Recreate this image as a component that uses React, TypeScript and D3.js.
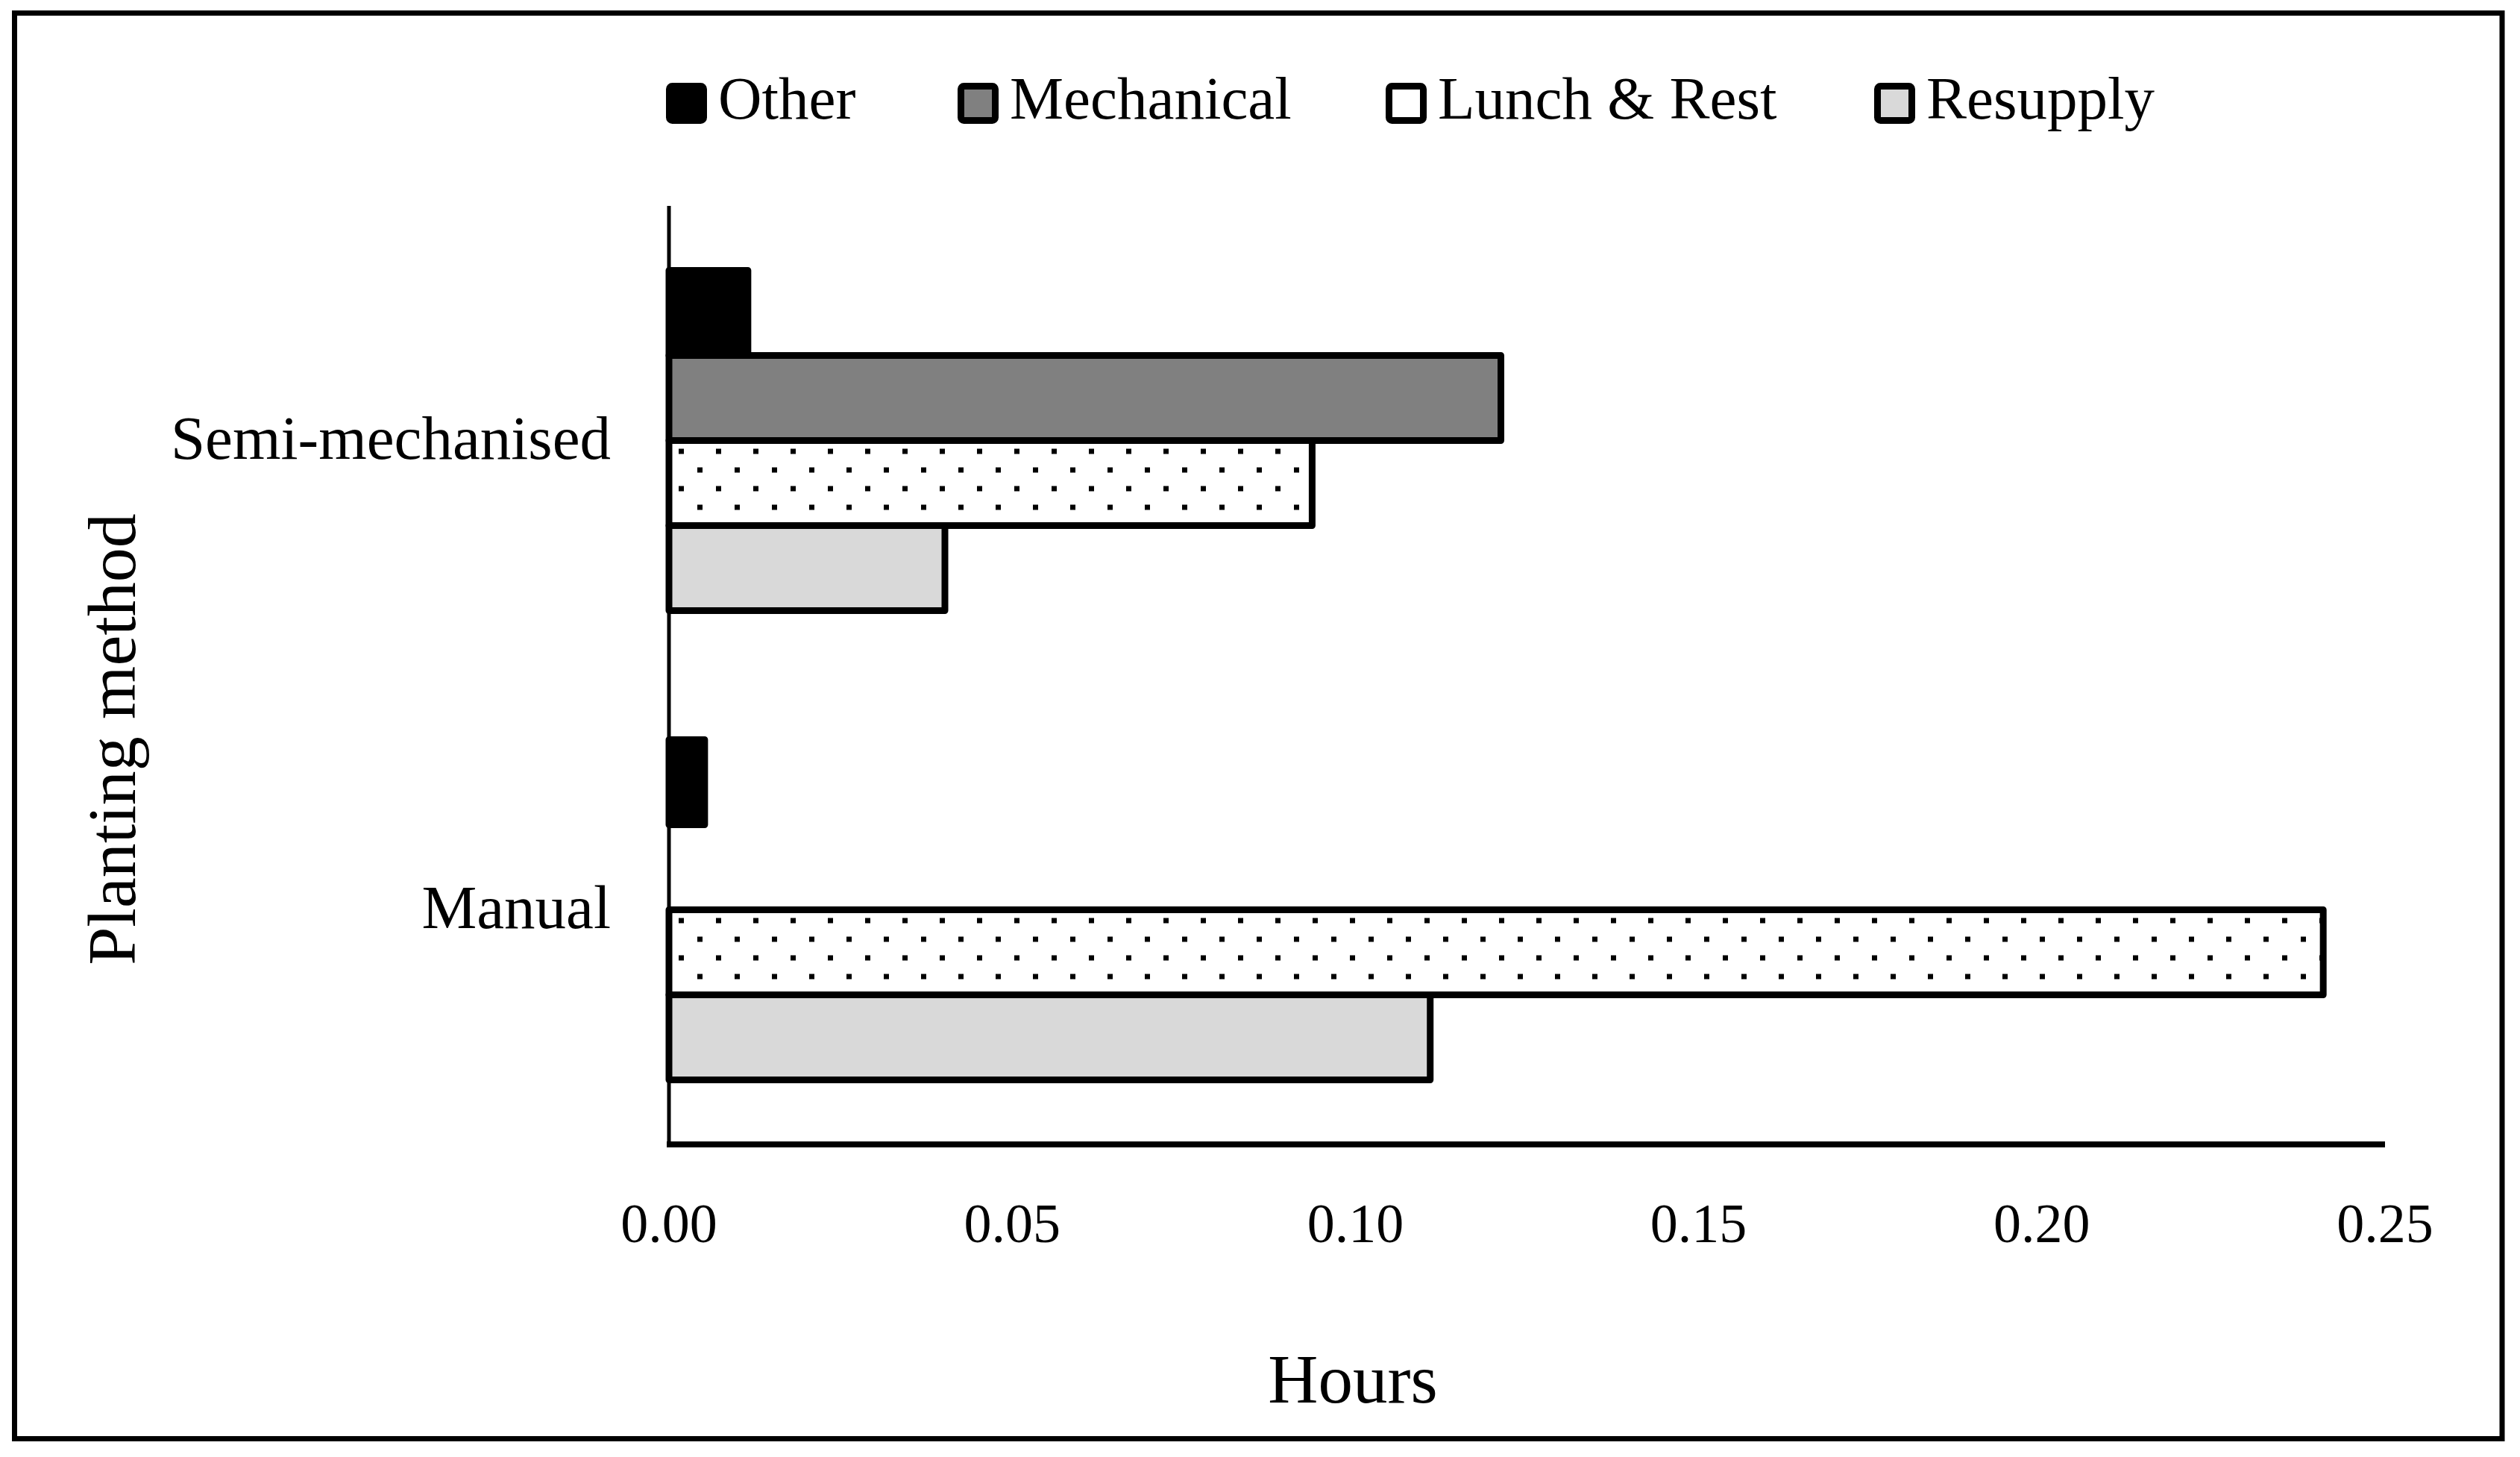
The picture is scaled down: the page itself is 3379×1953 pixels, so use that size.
import React from "react";
import * as d3 from "d3";

const categories = ["Semi-mechanised", "Manual"];
const seriesNames = ["Other", "Mechanical", "Lunch & Rest", "Resupply"];
const otherValues = [0.0115, 0.0052];
const mechanicalValues = [0.1212, 0];
const lunchValues = [0.0937, 0.241];
const resupplyValues = [0.0402, 0.1109];
const xTicks = [0, 0.05, 0.1, 0.15, 0.2, 0.25];
const xTitle = "Hours";
const yTitle = "Planting method";

const W = 3379;
const H = 1953;
const FONT = "'Liberation Serif', 'Times New Roman', serif";

const fills = ["#000000", "#808080", "url(#dots)", "#d9d9d9"];
const legendFills = ["#000000", "#808080", "#ffffff", "#d9d9d9"];
const legendX = [893, 1284, 1858, 2513];

export default function App() {
  const x = d3.scaleLinear().domain([0, 0.25]).range([897, 3198]);
  const y0 = d3
    .scaleBand<string>()
    .domain(categories)
    .range([276, 1534])
    .paddingInner(0.275)
    .paddingOuter(0.1375);
  const y1 = d3
    .scaleBand<string>()
    .domain(seriesNames)
    .range([0, y0.bandwidth()]);

  const values = [otherValues, mechanicalValues, lunchValues, resupplyValues];
  const fmt = d3.format(".2f");

  return (
    <svg
      width={W}
      height={H}
      style={{ position: "absolute", left: 0, top: 0, background: "#fff" }}
      fontFamily={FONT}
    >
      <defs>
        <pattern
          id="dots"
          patternUnits="userSpaceOnUse"
          x={10}
          y={39}
          width={50}
          height={50}
        >
          <rect x={0} y={0} width={50} height={50} fill="#fff" />
          <rect x={0} y={0} width={7} height={7} fill="#000" />
          <rect x={25} y={25} width={7} height={7} fill="#000" />
        </pattern>
      </defs>
      <rect x={0} y={0} width={W} height={H} fill="#fff" />
      <rect
        x={19.5}
        y={17.5}
        width={3335.5}
        height={1911}
        fill="none"
        stroke="#000"
        strokeWidth={7}
      />

      {/* Legend */}
      {seriesNames.map((s, i) => (
        <g key={s}>
          <rect
            x={legendX[i] + 4.5}
            y={115.5}
            width={46}
            height={46}
            rx={4}
            fill={legendFills[i]}
            stroke="#000"
            strokeWidth={9}
          />
          <text x={legendX[i] + 70} y={159} fontSize={81} fill="#000">
            {s}
          </text>
        </g>
      ))}

      {/* Bars */}
      {categories.map((c, ci) => (
        <g key={c} transform={`translate(0,${y0(c)})`}>
          {seriesNames.map((s, si) => {
            const v = values[si][ci];
            if (!v) return null;
            return (
              <rect
                key={s}
                x={x(0)}
                y={y1(s)}
                width={x(v) - x(0)}
                height={y1.bandwidth()}
                fill={fills[si]}
                stroke="#000"
                strokeWidth={9}
                strokeLinejoin="round"
              />
            );
          })}
        </g>
      ))}

      {/* Axes */}
      <line x1={x(0)} x2={x(0)} y1={276} y2={1534} stroke="#000" strokeWidth={5} />
      <line x1={x(0) - 3} x2={x(0.25)} y1={1534} y2={1534} stroke="#000" strokeWidth={8} />

      {xTicks.map((t) => (
        <text
          key={t}
          x={x(t)}
          y={1665}
          fontSize={74}
          textAnchor="middle"
          fill="#000"
        >
          {fmt(t)}
        </text>
      ))}

      {categories.map((c) => (
        <text
          key={c}
          x={819}
          y={(y0(c) as number) + y0.bandwidth() / 2}
          dy="0.3em"
          fontSize={83}
          textAnchor="end"
          fill="#000"
        >
          {c}
        </text>
      ))}

      <text x={1814} y={1880} fontSize={93} textAnchor="middle" fill="#000">
        {xTitle}
      </text>
      <text
        transform="translate(181,991) rotate(-90)"
        fontSize={92}
        textAnchor="middle"
        fill="#000"
      >
        {yTitle}
      </text>
    </svg>
  );
}
